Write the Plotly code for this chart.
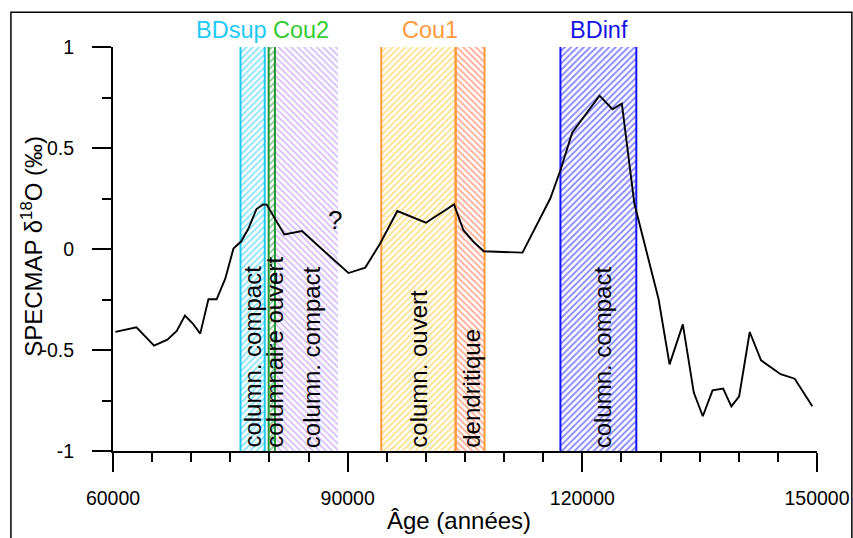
import plotly.graph_objects as go

# --- data ---------------------------------------------------------------
ages = [60300, 63000, 65250, 66950, 68150, 69200, 70200, 71150, 72200, 73250,
        74350, 75400, 76400, 77300, 78350, 79200, 79650, 81900, 84150, 90100,
        92250, 94150, 96350, 100000, 103600, 104800, 106100, 107400, 112350,
        115900, 117200, 118700, 122200, 123850, 125050, 126650, 129750, 131150,
        132850, 134250, 135400, 136650, 138000, 139050, 140050, 141400, 142850,
        145350, 147150, 149400]
d18o = [-0.41, -0.388, -0.478, -0.449, -0.406, -0.33, -0.369, -0.419, -0.249, -0.249,
        -0.147, 0.002, 0.038, 0.10, 0.198, 0.221, 0.22, 0.072, 0.089, -0.119,
        -0.092, 0.027, 0.188, 0.13, 0.221, 0.093, 0.035, -0.011, -0.018,
        0.25, 0.39, 0.576, 0.759, 0.692, 0.72, 0.225, -0.249, -0.571,
        -0.373, -0.711, -0.828, -0.70, -0.691, -0.779, -0.729, -0.411, -0.551,
        -0.62, -0.642, -0.779]

band_start = [76300, 79900, 80700, 94300, 103800, 117200]
band_end = [79400, 80700, 88700, 103800, 107500, 126900]
band_texts = ["column. compact", "columnaire ouvert", "column. compact",
              "column. ouvert", "dendritique", "column. compact"]
band_text_x = [77720, 80600, 85330, 98955, 105800, 122560]

group_labels = ["BDsup", "Cou2", "Cou1", "BDinf"]
group_label_x = [75100, 84050, 100555, 122175]

question_x = [88400]
question_y = [0.146]

x_tick_vals = [60000, 90000, 120000, 150000]
x_tick_text = ["60000", "90000", "120000", "150000"]
y_tick_vals = [-1, -0.5, 0, 0.5, 1]
y_tick_text = ["-1", "-0.5", "0", "0.5", "1"]

# --- styles -------------------------------------------------------------
hatch_colors = ["#1ec8f5", "#1e9632", "#b080f0", "#ffc21e", "#ff5a30", "#1010ff"]
hatch_shapes = ["/", "/", "\\", "/", "\\", "/"]
edge_colors = ["#1ec8f0", "#1e9632", None, "#ff9a3c", "#ff9a3c", "#1414ff"]
label_colors = ["#1ecbf5", "#33cc33", "#ff9a3c", "#1414e8"]
FONT = "Liberation Sans, Arial, sans-serif"

fig = go.Figure()

for s, e, hc, hs in zip(band_start, band_end, hatch_colors, hatch_shapes):
    fig.add_trace(go.Bar(
        x=[(s + e) / 2], y=[2], base=[-1], width=[e - s],
        marker=dict(color="rgba(0,0,0,0)", line=dict(width=0),
                    pattern=dict(shape=hs, fgcolor=hc, bgcolor="rgba(0,0,0,0)",
                                 size=4.5, solidity=0.4)),
        hoverinfo="skip", showlegend=False))

for s, e, ec in zip(band_start, band_end, edge_colors):
    if ec is None:
        continue
    fig.add_trace(go.Scatter(
        x=[s, s, None, e, e], y=[-1, 1, None, -1, 1], mode="lines",
        line=dict(color=ec, width=2), hoverinfo="skip", showlegend=False))

fig.add_trace(go.Scatter(x=ages, y=d18o, mode="lines",
                         line=dict(color="black", width=1.9),
                         showlegend=False, cliponaxis=False))

annotations = []
for t, xv in zip(band_texts, band_text_x):
    annotations.append(dict(x=xv, y=-1, xref="x", yref="y", text=t, textangle=-90,
                            showarrow=False, xanchor="center", yanchor="bottom",
                            borderpad=0, yshift=2,
                            font=dict(family=FONT, size=24, color="black")))
for t, xv, c in zip(group_labels, group_label_x, label_colors):
    annotations.append(dict(x=xv, y=1.041, xref="x", yref="paper", text=t,
                            showarrow=False, xanchor="center", yanchor="middle",
                            font=dict(family=FONT, size=23.5, color=c)))
annotations.append(dict(x=question_x[0], y=question_y[0], xref="x", yref="y", text="?",
                        showarrow=False, xanchor="center", yanchor="middle",
                        font=dict(family=FONT, size=26, color="black")))
annotations.append(dict(x=-0.1155, y=0.507, xref="paper", yref="paper",
                        text="SPECMAP δ<sup>18</sup>O (‰)", textangle=-90,
                        showarrow=False, xanchor="center", yanchor="middle",
                        font=dict(family=FONT, size=24, color="black")))
annotations.append(dict(x=0.4915, y=-0.1715, xref="paper", yref="paper",
                        text="Âge (années)", showarrow=False,
                        xanchor="center", yanchor="middle",
                        font=dict(family=FONT, size=24, color="black")))

fig.update_layout(
    width=853, height=538,
    margin=dict(l=113, r=36.3, t=46.7, b=87.3, autoexpand=False),
    paper_bgcolor="white", plot_bgcolor="white",
    barmode="overlay", bargap=0,
    font=dict(family=FONT, size=19, color="black"),
    annotations=annotations,
    shapes=[dict(type="rect", xref="paper", yref="paper",
                 x0=-0.145, x1=1.0495, y0=-0.3, y1=1.0859,
                 line=dict(color="black", width=1.5), fillcolor="rgba(0,0,0,0)",
                 layer="above")],
    xaxis=dict(range=[60000, 150000], showgrid=False, zeroline=False,
               showline=True, linecolor="black", linewidth=2,
               tickmode="array", tickvals=x_tick_vals, ticktext=x_tick_text,
               ticks="outside", ticklen=19, tickwidth=2, tickcolor="black",
               ticklabelstandoff=10, ticklabeloverflow="allow",
               tickfont=dict(family=FONT, size=19.5, color="black"),
               minor=dict(tickmode="linear", tick0=60000, dtick=5000,
                          ticks="outside", ticklen=9, tickwidth=2, tickcolor="black")),
    yaxis=dict(range=[-1, 1], showgrid=False, zeroline=False,
               showline=True, linecolor="black", linewidth=2,
               tickmode="array", tickvals=y_tick_vals, ticktext=y_tick_text,
               ticks="outside", ticklen=19, tickwidth=2, tickcolor="black",
               ticklabelstandoff=14, ticklabeloverflow="allow",
               tickfont=dict(family=FONT, size=19.5, color="black"),
               minor=dict(tickmode="linear", tick0=-1, dtick=0.25,
                          ticks="outside", ticklen=9, tickwidth=2, tickcolor="black")),
)

fig.write_html("out.html",
               config={"displayModeBar": False},
               post_script="document.body.style.margin='0px';"
                           "document.body.style.overflow='hidden';")
